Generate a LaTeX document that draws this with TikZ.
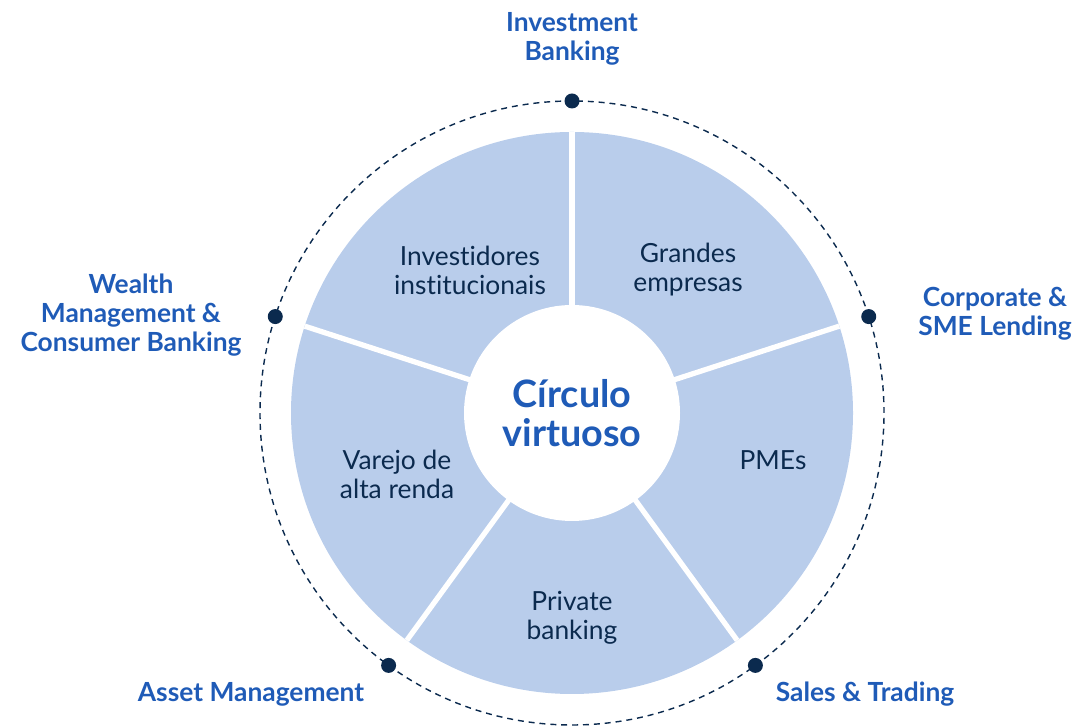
\documentclass[tikz,border=0pt]{standalone}
\usepackage{fontspec}
\setmainfont{Lato}[Ligatures=NoCommon]
\definecolor{pieblue}{HTML}{B9CDEB}
\definecolor{labelblue}{HTML}{1F5BB7}
\definecolor{navy}{HTML}{0B2A4E}
\begin{document}
\begin{tikzpicture}[x=0.02cm, y=0.02cm,
		area/.style={text=labelblue, font=\fontsize{15}{16.5}\selectfont\bfseries, align=center},
		client/.style={text=navy, font=\fontsize{15}{16.5}\selectfont, align=center}]
		\useasboundingbox (0,0) rectangle (1078,726);
		\coordinate (c) at (572,313);
		% ring and wheel
		\draw[navy, line width=0.8pt, dash pattern=on 3.4pt off 2.8pt] (c) circle (312);
		\fill[pieblue] (c) circle (281);
		\foreach \a in {90,18,-54,-126,162}
			\draw[white, line width=3pt] (c) -- ++(\a:281);
		\fill[white] (c) circle (108);
		\foreach \a in {90,18,-54,-126,162}
			\fill[navy] (c) ++(\a:312) circle (7.5);
		% business areas
		\node[area] (ib) at (572,687) {Investment\\Banking};
		\node[area] (wm) at (131,411) {Wealth\\Management \&\\Consumer Banking};
		\node[area] (csl) at (995,412) {Corporate \&\\SME Lending};
		\node[area] (am) at (251,32) {Asset Management};
		\node[area] (st) at (865,32) {Sales \& Trading};
		% clients
		\node[client] (ii) at (470,456) {Investidores\\institucionais};
		\node[client] (ge) at (688,456) {Grandes\\empresas};
		\node[client] (var) at (397,252) {Varejo de\\alta renda};
		\node[client] (pme) at (773,266) {PMEs};
		\node[client] (pb) at (572,108) {Private\\banking};
		\node[text=labelblue, font=\fontsize{21.5}{22.5}\selectfont\bfseries, align=center] (cv) at (c) {Círculo\\virtuoso};
	\end{tikzpicture}
\end{document}
